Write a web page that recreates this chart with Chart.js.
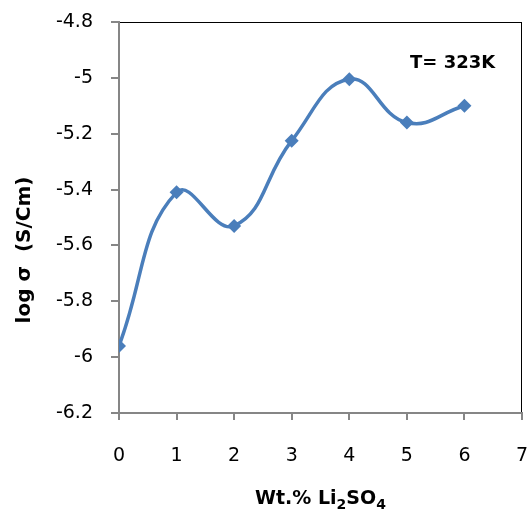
<!DOCTYPE html>
<html>
<head>
<meta charset="utf-8">
<script src="https://cdn.jsdelivr.net/npm/chart.js@4/dist/chart.umd.min.js"></script>
<style>
  html, body { margin: 0; padding: 0; background: #fff; }
  #wrap { width: 529px; height: 520px; }
</style>
</head>
<body>
<div id="wrap"><canvas id="cond" width="529" height="520"></canvas></div>
<script>
const wtPercent = [0, 1, 2, 3, 4, 5, 6];
const logSigma = [-5.96, -5.41, -5.53, -5.225, -5.005, -5.16, -5.10];
const xTickValues = [0, 1, 2, 3, 4, 5, 6, 7];
const yTickValues = [-6.2, -6, -5.8, -5.6, -5.4, -5.2, -5, -4.8];

const FONT = '"DejaVu Sans", sans-serif';

// titles, annotation and plot border (Excel look)
const decor = {
  id: 'decor',
  beforeDraw(chart) {
    const { ctx, chartArea: a } = chart;
    ctx.save();
    ctx.strokeStyle = '#000';
    ctx.lineWidth = 1;
    ctx.strokeRect(a.left + 0.5, a.top + 0.5, a.right - a.left - 1, a.bottom - a.top);
    ctx.restore();
  },
  afterDraw(chart) {
    const { ctx, chartArea: a } = chart;
    ctx.save();
    ctx.fillStyle = '#000';

    // y title
    ctx.translate(25, 250);
    ctx.rotate(-Math.PI / 2);
    ctx.font = 'bold 20px ' + FONT;
    ctx.textAlign = 'center';
    ctx.textBaseline = 'middle';
    ctx.fillText('log σ  (S/Cm)', 0, 0);
    ctx.setTransform(1, 0, 0, 1, 0, 0);

    // x title with subscripts
    const parts = [['Wt.% Li', 0], ['2', 1], ['SO', 0], ['4', 1]];
    const big = 'bold 19px ' + FONT, small = 'bold 14px ' + FONT;
    let total = 0;
    parts.forEach(p => { ctx.font = p[1] ? small : big; total += ctx.measureText(p[0]).width; });
    let x = (a.left + a.right) / 2 - total / 2;
    const base = 504;
    ctx.textAlign = 'left';
    ctx.textBaseline = 'alphabetic';
    parts.forEach(p => {
      ctx.font = p[1] ? small : big;
      ctx.fillText(p[0], x, p[1] ? base + 5 : base);
      x += ctx.measureText(p[0]).width;
    });

    // temperature label
    ctx.font = 'bold 18px ' + FONT;
    ctx.textAlign = 'left';
    ctx.textBaseline = 'middle';
    ctx.fillText('T= 323K', 410, 63);
    ctx.restore();
  }
};

new Chart(document.getElementById('cond').getContext('2d'), {
  type: 'line',
  data: {
    datasets: [{
      data: wtPercent.map((v, i) => ({ x: v, y: logSigma[i] })),
      borderColor: '#4a7ebb',
      backgroundColor: '#4a7ebb',
      borderWidth: 3.5,
      tension: 0.45,
      pointStyle: 'rectRot',
      pointRadius: 7,
      pointHoverRadius: 7,
      pointBorderWidth: 0,
      fill: false
    }]
  },
  options: {
    responsive: false,
    animation: false,
    layout: { padding: { top: 22, right: 6, left: 0, bottom: 0 } },
    scales: {
      x: {
        type: 'linear',
        min: 0,
        max: 7,
        afterFit: s => { s.height = 107; s.paddingLeft = 0; s.paddingRight = 0; },
        afterBuildTicks: s => { s.ticks = xTickValues.map(v => ({ value: v })); },
        ticks: { color: '#000', font: { family: FONT, size: 19 }, padding: 25, maxRotation: 0,
                 callback: v => String(v) },
        grid: { drawOnChartArea: false, tickLength: 7, color: '#868686', lineWidth: 2 },
        border: { color: '#868686', width: 2 }
      },
      y: {
        min: -6.2,
        max: -4.8,
        afterFit: s => { s.width = 119; s.paddingTop = 0; s.paddingBottom = 0; },
        afterBuildTicks: s => { s.ticks = yTickValues.map(v => ({ value: v })); },
        ticks: { color: '#000', font: { family: FONT, size: 19 }, padding: 18,
                 callback: v => String(Math.round(v * 10) / 10) },
        grid: { drawOnChartArea: false, tickLength: 8, color: '#868686', lineWidth: 2 },
        border: { color: '#868686', width: 2 }
      }
    },
    plugins: { legend: { display: false }, tooltip: { enabled: false } }
  },
  plugins: [decor]
});
</script>
</body>
</html>
